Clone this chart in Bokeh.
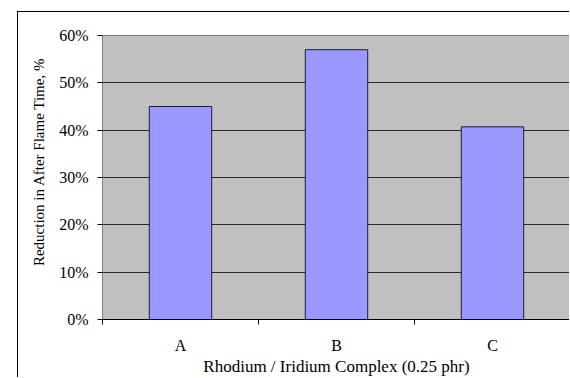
from bokeh.plotting import figure
from bokeh.models import (Range1d, LinearAxis, FixedTicker, NumeralTickFormatter,
                          ColumnDataSource, Title)
from bokeh.embed import file_html
from bokeh.resources import INLINE

# Reduction in after-flame time per complex (fraction)
categories = ["A", "B", "C"]
reduction = [0.45, 0.57, 0.407]
y_ticks = [0.0, 0.1, 0.2, 0.3, 0.4, 0.5, 0.6]
x_title = "Rhodium / Iridium Complex (0.25 phr)"
y_title = "Reduction in After Flame Time, %"

FONT = "Liberation Serif"

# one unit-wide slot per category; bars sit in the middle of each slot
slot_edges = list(range(len(categories) + 1))
slot_centers = [i + 0.5 for i in range(len(categories))]

source = ColumnDataSource(data=dict(x=slot_centers, val=reduction))

p = figure(
    x_range=Range1d(slot_edges[0], slot_edges[-1]),
    y_range=Range1d(y_ticks[0], y_ticks[-1]),
    width=552, height=366,
    margin=(11, 0, 0, 17),
    styles={"border-left": "1px solid black", "border-top": "1px solid black"},
    output_backend="svg", toolbar_location=None,
    x_axis_location=None, y_axis_location="left",
    min_border_left=83, min_border_top=23, min_border_bottom=40, min_border_right=0,
)
p.background_fill_color = "#C0C0C0"
p.border_fill_color = "white"
p.outline_line_color = None

p.xgrid.visible = False
p.ygrid.ticker = FixedTicker(ticks=y_ticks[1:-1])
p.ygrid.grid_line_color = "#2a2a2a"
p.ygrid.grid_line_width = 1

p.vbar(x="x", top="val", width=0.4, source=source,
       fill_color="#9999FF", line_color="#1c1c3c", line_width=1)

# gray rule along the top of the plot area
top_rule = LinearAxis(
    ticker=FixedTicker(ticks=[]),
    axis_line_color="#808080",
    major_tick_line_color=None, minor_tick_line_color=None,
    major_label_text_font_size="0px", major_label_standoff=0,
)
p.add_layout(top_rule, "above")

# y axis
ya = p.yaxis[0]
ya.ticker = FixedTicker(ticks=y_ticks)
ya.formatter = NumeralTickFormatter(format="0%")
ya.axis_line_color = "#808080"
ya.major_tick_line_color = "black"
ya.major_tick_out = 5
ya.major_tick_in = 0
ya.minor_tick_line_color = None
ya.major_label_standoff = 9
ya.major_label_text_font = FONT
ya.major_label_text_font_size = "16px"
ya.major_label_text_color = "black"

# y title, set a little above the middle of the value axis
p.add_layout(Title(text=y_title, align="right", offset=22, standoff=20,
                   text_font=FONT, text_font_size="15px", text_font_style="normal",
                   text_color="black"), "left")

# x axis: tick marks on the category boundaries
tick_axis = LinearAxis(
    ticker=FixedTicker(ticks=slot_edges),
    major_label_overrides={e: "" for e in slot_edges},
    major_label_text_font_size="0px",
    axis_line_color="black",
    major_tick_line_color="black",
    major_tick_out=5, major_tick_in=0,
    minor_tick_line_color=None,
    major_label_standoff=0,
)
p.add_layout(tick_axis, "below")

# x axis: category names and title
cat_axis = LinearAxis(
    ticker=FixedTicker(ticks=slot_centers),
    major_label_overrides={c: name for c, name in zip(slot_centers, categories)},
    axis_line_color=None,
    major_tick_line_color=None,
    minor_tick_line_color=None,
    major_label_standoff=6,
    major_label_text_font=FONT,
    major_label_text_font_size="16px",
    major_label_text_color="black",
    axis_label=x_title,
    axis_label_text_font=FONT,
    axis_label_text_font_size="17px",
    axis_label_text_font_style="normal",
    axis_label_text_color="black",
    axis_label_standoff=0,
)
p.add_layout(cat_axis, "below")

open("out.html", "w").write(file_html(p, INLINE))
